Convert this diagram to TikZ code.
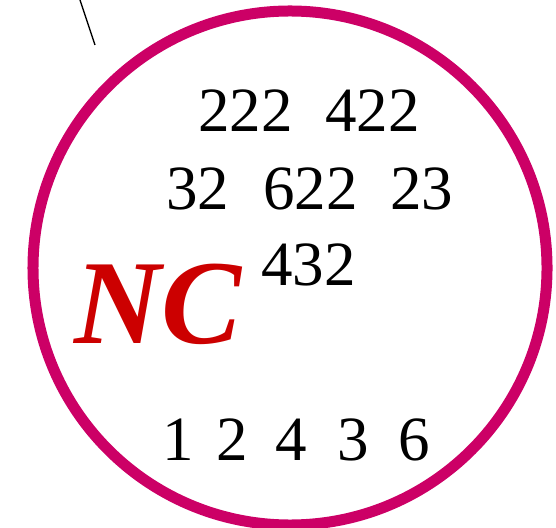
\documentclass[tikz,border=0pt]{standalone}
\usepackage{fontspec}
\setmainfont{Liberation Serif}
\usepackage{xcolor}
\usetikzlibrary{shapes.geometric}
\definecolor{ringmag}{RGB}{204,0,102}
\definecolor{ncred}{RGB}{204,0,0}

\begin{document}
\begin{tikzpicture}[x=0.5bp,y=-0.5bp,
   num/.style={anchor=base west,inner sep=0pt,font=\fontsize{31.5bp}{36bp}\selectfont},
   tag/.style={anchor=base west,inner sep=0pt,text=ncred,
               font=\fontsize{60bp}{66bp}\selectfont\bfseries\itshape}]
  \useasboundingbox (0,0) rectangle (556,528);
  \node[circle,draw=ringmag,line width=5.5bp,minimum size=257bp,inner sep=0pt] (ring) at (290,268) {};
  % row 1
  \node[num] (n222) at (198,132) {222};
  \node[num] (n422) at (325,132) {422};
  % row 2
  \node[num] (n32) at (166,210) {32};
  \node[num] (n622) at (263,210) {622};
  \node[num] (n23) at (390,210) {23};
  \node[num] (n432) at (261,285) {432};
  \node[tag] (nc) at (74,343) {NC};
  % bottom row
  \node[num] (d1) at (162,460) {1};
  \node[num] (d2) at (216,460) {2};
  \node[num] (d4) at (275,460) {4};
  \node[num] (d3) at (337,460) {3};
  \node[num] (d6) at (398,460) {6};
  % pointer at top left
  \coordinate (lineA) at (80,0);
  \coordinate (lineB) at (95,45);
  \draw[line width=0.65bp] (lineA) -- (lineB);
\end{tikzpicture}
\end{document}
